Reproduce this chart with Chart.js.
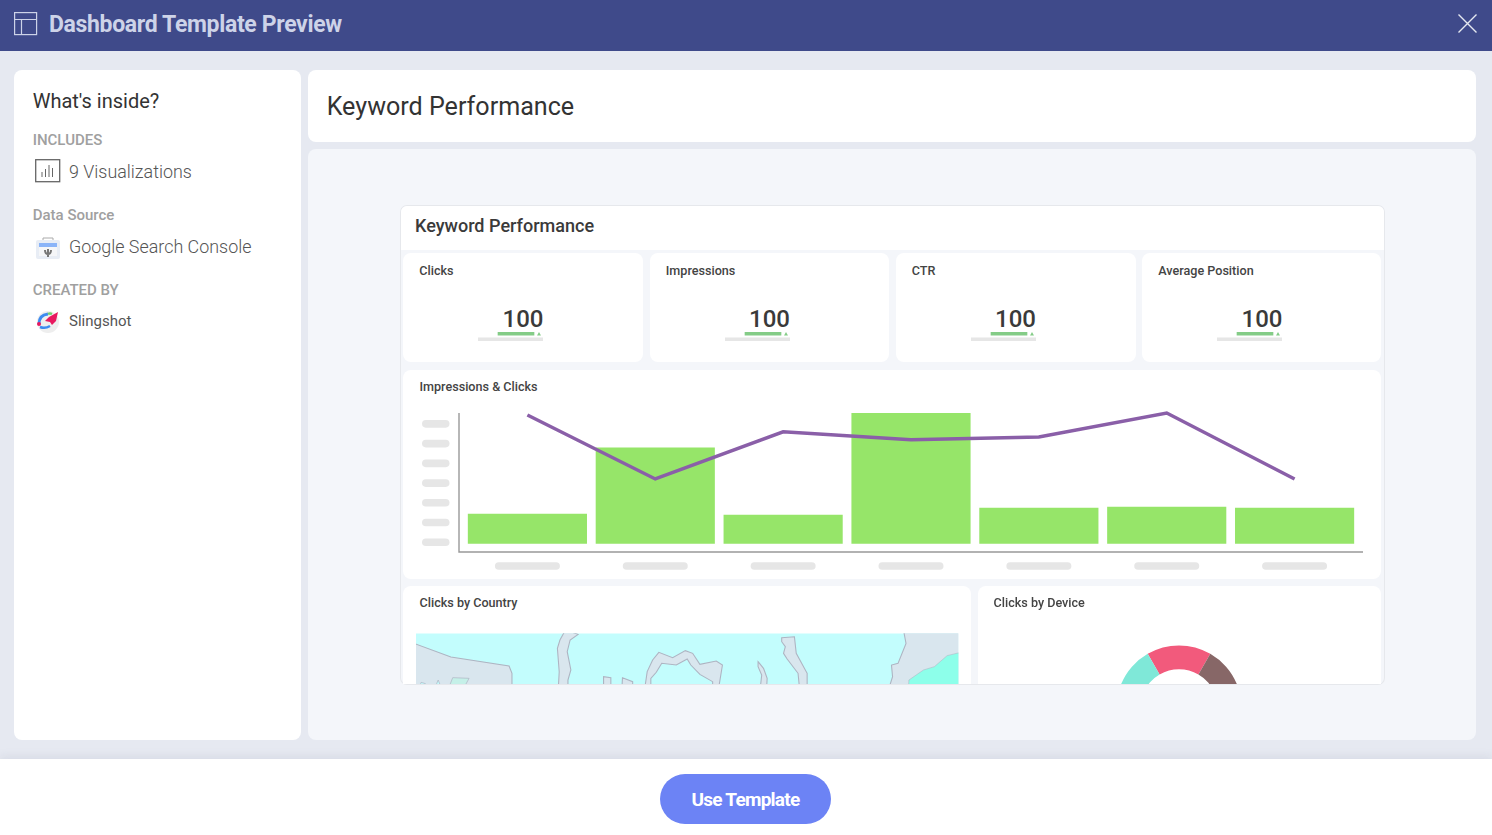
<!DOCTYPE html>
<html><head><meta charset="utf-8">
<script src="https://cdn.jsdelivr.net/npm/chart.js@4"></script>
<style>
html,body{margin:0;padding:0;width:1492px;height:835px;overflow:hidden;background:#e6e9f1;font-family:Roboto,sans-serif}
.a{position:absolute}
.t{position:absolute;white-space:nowrap;line-height:1}
.card{position:absolute;background:#fff;border-radius:8px}
canvas{display:block}
</style></head><body>
<div class="a" style="left:0;top:0;width:1492px;height:51px;background:#3f4a8a"></div>
<svg class="a" style="left:14px;top:12px" width="24" height="24" fill="none" stroke="#cdd3e8" stroke-width="1.2"><rect x="0.6" y="0.6" width="22" height="22"/><path d="M0.6 7.5H22.6M7.5 7.5V22.6"/></svg>
<div class="t" style="left:49px;top:12.5px;font-size:23px;font-weight:700;color:#cdd3e8;letter-spacing:-0.34px">Dashboard Template Preview</div>
<svg class="a" style="left:1457px;top:13px" width="21" height="21" stroke="#e6e9f1" stroke-width="1.4"><path d="M1.5 1.5L19.5 19.5M19.5 1.5L1.5 19.5"/></svg>

<div class="card" style="left:14px;top:70px;width:287px;height:670px"></div>
<div class="t" style="left:32.7px;top:91px;font-size:20px;color:#333">What's inside?</div>
<div class="t" style="left:32.7px;top:133px;font-size:15px;font-weight:500;color:#a0a0a0">INCLUDES</div>
<svg class="a" style="left:35px;top:159px" width="26" height="24" fill="none" stroke="#666" stroke-width="1"><rect x="0.7" y="0.7" width="24" height="22" stroke-width="1.3"/><path d="M7 18V13M10.5 18V10M14 18V6M17.5 18V9"/></svg>
<div class="t" style="left:69px;top:163px;font-size:17.9px;font-weight:300;color:#555">9 Visualizations</div>
<div class="t" style="left:32.7px;top:208px;font-size:15px;font-weight:500;color:#a0a0a0">Data Source</div>
<svg class="a" style="left:36px;top:235px" width="24" height="24"><path d="M7 3H17V6H7Z" fill="none" stroke="#aaa"/><rect x="0" y="5" width="24" height="19" rx="2" fill="#e8edf5"/><rect x="3" y="8" width="18" height="4" fill="#8ab4f8"/><rect x="3" y="12" width="18" height="9" fill="#f5f6f8"/><path d="M12 14L12 22M9 15Q9 19 12 19Q15 19 15 15" fill="none" stroke="#777" stroke-width="2"/></svg>
<div class="t" style="left:69px;top:238px;font-size:17.9px;font-weight:300;color:#555">Google Search Console</div>
<div class="t" style="left:32.7px;top:283px;font-size:15px;font-weight:500;color:#a0a0a0">CREATED BY</div>
<svg class="a" style="left:36px;top:309px" width="24" height="24"><circle cx="12" cy="13" r="11" fill="#eee"/><path d="M3 15Q3 6 12 5" fill="none" stroke="#3d8bf0" stroke-width="3"/><path d="M12 5Q14 4 16 5" fill="none" stroke="#6fcf6f" stroke-width="2.5"/><path d="M4 18Q9 20 14 17" fill="none" stroke="#3d8bf0" stroke-width="2.5"/><path d="M22 3L20 12L16 16L14 13L9 12L13 8Z" fill="#e8195f"/><circle cx="3" cy="15" r="2" fill="#e8195f"/></svg>
<div class="t" style="left:69px;top:313.5px;font-size:15px;color:#555">Slingshot</div>

<div class="card" style="left:308px;top:70px;width:1168px;height:72px"></div>
<div class="t" style="left:326.7px;top:94px;font-size:25.1px;color:#333">Keyword Performance</div>
<div class="a" style="left:308px;top:149px;width:1168px;height:591px;background:#f4f6fa;border-radius:8px"></div>

<div class="a" id="dash" style="left:401px;top:205.5px;width:983px;height:478.5px;background:#f4f6fa;border-radius:6px;overflow:hidden;box-shadow:0 0 0 1px #e6e8ec">
  <div class="a" style="left:0;top:0;width:983px;height:44.5px;background:#fff"></div>
  <div class="t" style="left:14px;top:11.5px;font-size:18.05px;font-weight:500;color:#3a3a3a">Keyword Performance</div>
</div>
<div id="kpis"></div>

<div class="card" style="left:403px;top:370px;width:978px;height:209px"></div>
<div class="t" style="left:419.5px;top:381px;font-size:12.6px;font-weight:500;color:#444">Impressions &amp; Clicks</div>
<div class="a" style="left:403px;top:370px;width:978px;height:209px"><canvas id="main" width="978" height="209"></canvas></div>

<div class="a" style="left:403px;top:586px;width:568px;height:98px;background:#fff;border-radius:8px 8px 0 0"></div>
<div class="t" style="left:419.5px;top:597px;font-size:12.6px;font-weight:500;color:#444">Clicks by Country</div>
<svg class="a" style="left:400px;top:585px" width="570" height="110" viewBox="0 0 1568 330" preserveAspectRatio="none">
  <defs><clipPath id="mapclip"><rect x="44" y="145" width="1492" height="152"/></clipPath></defs>
  <g clip-path="url(#mapclip)">
  <rect x="44" y="145" width="1492" height="153" fill="#c3fdfd"/>
  <g fill="#d9e6ee" stroke="#aeb4c2" stroke-width="3">
    <path d="M30 172L140 216L300 243L308 265L308 320H30Z"/>
    <path d="M455 135L490 148L468 165L460 200L470 255L462 285L462 320H435L438 260L433 190L440 165Z"/>
    <path d="M560 320V275L580 278V320ZM610 320L612 278L640 290V320Z"/>
    <path d="M672 320L680 260L695 225L712 202L750 218L785 197L805 205L825 238L870 228L887 240L875 320H860V290L825 268L800 240L790 222L760 240L720 235L705 262L690 280V320Z"/>
    <path d="M985 230L1000 250L1010 280L1008 320H990L995 270L985 245Z"/>
    <path d="M1050 158L1085 155L1090 205L1100 225L1120 265V320H1100L1095 265L1065 222L1055 205L1060 185L1050 170Z"/>
    <path d="M1385 135L1392 175L1370 235L1352 240L1355 275L1342 320H1560V135Z"/>
  </g>
  <path d="M130 320L145 278L190 280L170 320Z" fill="#c5f0e8" stroke="#aeb4c2" stroke-width="2"/>
  <path d="M50 320L58 292L70 296L85 320ZM92 320L105 285L118 320Z" fill="#c3fdfd" stroke="#aeb4c2" stroke-width="2"/>
  <path d="M1398 320L1400 285L1440 255L1470 245L1505 212L1550 200V320Z" fill="#8dffea" stroke="#aeb4c2" stroke-width="1.5"/>
  </g>
</svg>

<div class="a" style="left:978px;top:586px;width:403px;height:98px;background:#fff;border-radius:8px 8px 0 0;overflow:hidden">
  <div class="a" style="left:101px;top:22.3px;width:200px;height:200px"><canvas id="donut" width="200" height="200"></canvas></div>
</div>
<div class="t" style="left:993.5px;top:597px;font-size:12.6px;font-weight:500;color:#444">Clicks by Device</div>

<div class="a" style="left:0;top:759px;width:1492px;height:76px;background:#fff;box-shadow:0 -3px 8px rgba(120,130,160,.12)"></div>
<div class="a" style="left:660px;top:774px;width:171px;height:50px;border-radius:25px;background:#6c83f5"></div>
<div class="t" style="left:660px;width:171px;text-align:center;top:790px;font-size:19px;font-weight:700;color:#fff;letter-spacing:-0.75px">Use Template</div>

<script>
// Impressions & Clicks (arbitrary units)
const categories = ['A','B','C','D','E','F','G'];
const clicks = [148, 483, 143, 660, 179, 184, 179];
const impressions = [650, 326, 565, 524, 539, 660, 326];
const yPlaceholderTicks = [0, 100, 200, 300, 400, 500, 600];
// KPI cards
const kpiNames = ['Clicks', 'Impressions', 'CTR', 'Average Position'];
const kpiValues = [100, 100, 100, 100];
const kpiActual = [20, 56];
const kpiTarget = [0, 65];
const kpiMarker = 61;
// Clicks by Device
const deviceLabels = ['Desktop', 'Tablet', 'Mobile'];
const deviceValues = [60, 150, 150];

Chart.defaults.animation = false;
Chart.defaults.responsive = false;
Chart.defaults.plugins.legend.display = false;
Chart.defaults.plugins.tooltip.enabled = false;

const kpiLeft = [403, 649.5, 895.5, 1142], kpiW = [240, 239.5, 240.5, 239];
const host = document.getElementById('kpis');
kpiNames.forEach((n, i) => {
  const l = kpiLeft[i];
  host.insertAdjacentHTML('beforeend',
    `<div class="card" style="left:${l}px;top:253px;width:${kpiW[i]}px;height:109px"></div>
     <div class="t" style="left:${l+16.3}px;top:265px;font-size:12.6px;font-weight:500;color:#444">${n}</div>
     <div class="t" style="left:${l+41.5}px;width:99px;text-align:right;top:306.5px;font-size:24px;font-weight:500;color:#3a3a3a">${kpiValues[i]}</div>
     <div class="a" style="left:${l+75}px;top:330.5px;width:65px;height:11px"><canvas id="kpi${i}" width="65" height="11"></canvas></div>`);
});
const kpiTriangle = {
  id: 'kpiTriangle',
  afterDraw(c) {
    const g = c.ctx, x = c.scales.x.getPixelForValue(kpiMarker), y = c.scales.y.getPixelForValue(0);
    g.save(); g.fillStyle = '#84cc87';
    g.beginPath(); g.moveTo(x, y - 1.7); g.lineTo(x + 2, y + 1.7); g.lineTo(x - 2, y + 1.7); g.closePath(); g.fill();
    g.restore();
  }
};
kpiNames.forEach((n, i) => {
  new Chart(document.getElementById('kpi' + i), {
    type: 'bar',
    data: { labels: ['actual', 'target'], datasets: [
      { data: [kpiActual, kpiTarget], backgroundColor: ['#84cc87', '#e6e6e6'], barThickness: 3 }
    ]},
    options: { indexAxis: 'y', layout: { padding: 0 },
      scales: { x: { display: false, min: 0, max: 65, offset: false }, y: { display: false } } },
    plugins: [kpiTriangle]
  });
});

const pills = {
  id: 'pills',
  afterDraw(c) {
    const g = c.ctx, xs = c.scales.x, ys = c.scales.y;
    g.save();
    g.fillStyle = '#e6e6e6';
    yPlaceholderTicks.forEach(v => {
      g.beginPath(); g.roundRect(19, ys.getPixelForValue(v) - 4.8, 27.5, 7.6, 3.8); g.fill();
    });
    categories.forEach((_, i) => {
      g.beginPath(); g.roundRect(xs.getPixelForValue(i) - 32.5, c.chartArea.bottom + 10.2, 65, 7.6, 3.8); g.fill();
    });
    g.strokeStyle = '#999'; g.lineWidth = 1.4;
    g.beginPath();
    g.moveTo(c.chartArea.left, c.chartArea.top);
    g.lineTo(c.chartArea.left, c.chartArea.bottom);
    g.lineTo(c.chartArea.right, c.chartArea.bottom);
    g.stroke();
    g.restore();
  }
};
new Chart(document.getElementById('main'), {
  data: { datasets: [
    { type: 'line', order: 0, data: impressions.map((y, x) => ({ x, y })), borderColor: '#8a5fa8', borderWidth: 3.5, pointRadius: 0, tension: 0, clip: false },
    { type: 'bar', order: 1, data: clicks.map((y, x) => ({ x, y })), backgroundColor: '#96e569', barThickness: 118.5 }
  ]},
  options: {
    layout: { padding: { left: 56, right: 18, top: 43, bottom: 27 } },
    scales: {
      x: { type: 'linear', display: false, min: -0.535, max: 6.535, offset: false, grid: { offset: false } },
      y: { display: false, min: -44, max: 660 }
    }
  },
  plugins: [pills]
});

new Chart(document.getElementById('donut'), {
  type: 'doughnut',
  data: { labels: deviceLabels, datasets: [{ data: deviceValues, backgroundColor: ['#f25a7c', '#876767', '#7fe8d8'], borderWidth: 0 }] },
  options: { rotation: -30, cutout: '62%', layout: { padding: 37.4 } }
});
</script>
</body></html>
